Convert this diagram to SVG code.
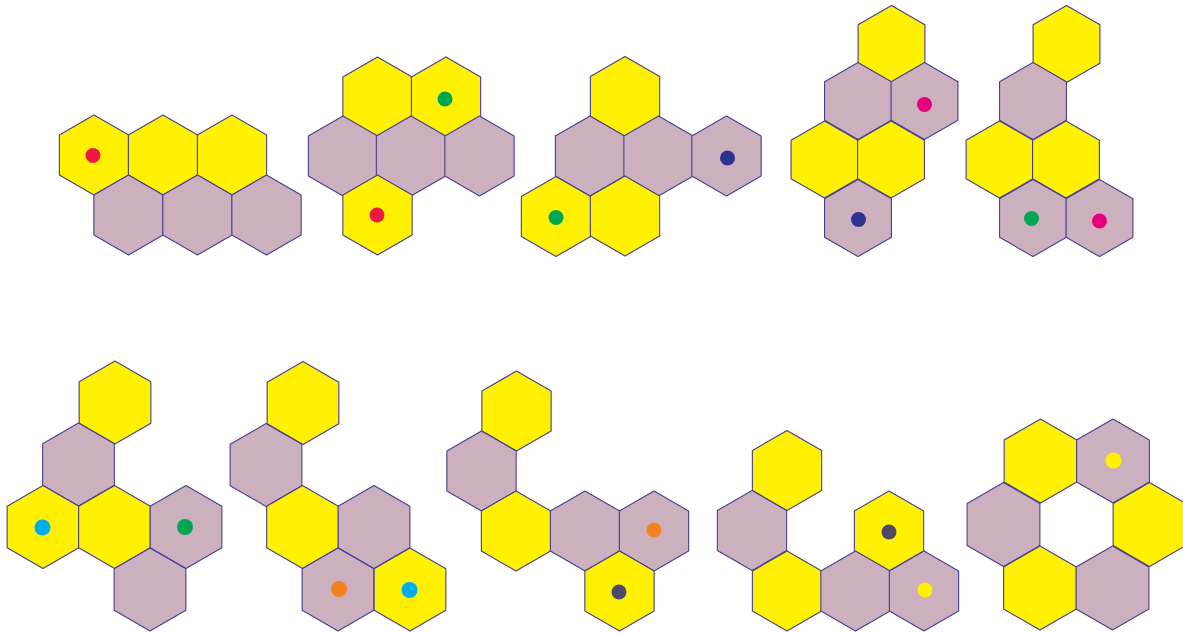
<svg xmlns="http://www.w3.org/2000/svg" xmlns:xlink="http://www.w3.org/1999/xlink" width="1183" height="633" viewBox="0 0 1183 633">
<style>
.y{fill:#FFF100}
.p{fill:#CDB0BE}
.d{stroke:none}
</style>
<defs>
<path id="h" d="M0,-40 L34.64,-20 L34.64,20 L0,40 L-34.64,20 L-34.64,-20 Z" stroke="#443F94" stroke-width="1.1" stroke-linejoin="round" vector-effect="non-scaling-stroke"/>
</defs>
<rect width="1183" height="633" fill="#FFFFFF"/>
<g id="cluster1">
<use xlink:href="#h" class="y" transform="translate(94,155)"/>
<use xlink:href="#h" class="y" transform="translate(163,155)"/>
<use xlink:href="#h" class="y" transform="translate(232,155)"/>
<use xlink:href="#h" class="p" transform="translate(128.5,215)"/>
<use xlink:href="#h" class="p" transform="translate(197.5,215)"/>
<use xlink:href="#h" class="p" transform="translate(266.5,215)"/>
<circle class="d" cx="93" cy="155.5" r="7.5" fill="#ED1848"/>
</g>
<g id="cluster2">
<use xlink:href="#h" class="y" transform="translate(377.5,97)"/>
<use xlink:href="#h" class="y" transform="translate(446,97)"/>
<use xlink:href="#h" class="p" transform="translate(343,156)"/>
<use xlink:href="#h" class="p" transform="translate(411,156)"/>
<use xlink:href="#h" class="p" transform="translate(479.5,156)"/>
<use xlink:href="#h" class="y" transform="translate(377.5,215)"/>
<circle class="d" cx="445" cy="99" r="7.5" fill="#00A651"/>
<circle class="d" cx="377" cy="215" r="7.5" fill="#ED1848"/>
</g>
<g id="cluster3">
<use xlink:href="#h" class="y" transform="translate(625,96.5)"/>
<use xlink:href="#h" class="p" transform="translate(590,156)"/>
<use xlink:href="#h" class="p" transform="translate(658.5,156)"/>
<use xlink:href="#h" class="p" transform="translate(726.5,156)"/>
<use xlink:href="#h" class="y" transform="translate(556,216.5)"/>
<use xlink:href="#h" class="y" transform="translate(625,216)"/>
<circle class="d" cx="727.5" cy="158" r="7.5" fill="#2E3192"/>
<circle class="d" cx="556" cy="217.5" r="7.5" fill="#00A651"/>
</g>
<g id="cluster4">
<use xlink:href="#h" class="y" transform="translate(891.5,44) scale(0.965)"/>
<use xlink:href="#h" class="p" transform="translate(858,101) scale(0.965)"/>
<use xlink:href="#h" class="p" transform="translate(924.5,101) scale(0.965)"/>
<use xlink:href="#h" class="y" transform="translate(824.5,159.5) scale(0.965)"/>
<use xlink:href="#h" class="y" transform="translate(891,159.5) scale(0.965)"/>
<use xlink:href="#h" class="p" transform="translate(858,218) scale(0.965)"/>
<circle class="d" cx="924.5" cy="104.5" r="7.5" fill="#E6007E"/>
<circle class="d" cx="858.5" cy="219.5" r="7.5" fill="#2E3192"/>
</g>
<g id="cluster5">
<use xlink:href="#h" class="y" transform="translate(1066.5,44) scale(0.965)"/>
<use xlink:href="#h" class="p" transform="translate(1033,101) scale(0.965)"/>
<use xlink:href="#h" class="y" transform="translate(999.5,159.5) scale(0.965)"/>
<use xlink:href="#h" class="y" transform="translate(1066,159.5) scale(0.965)"/>
<use xlink:href="#h" class="p" transform="translate(1033,218) scale(0.965)"/>
<use xlink:href="#h" class="p" transform="translate(1099.5,218) scale(0.965)"/>
<circle class="d" cx="1031.5" cy="218.5" r="7.5" fill="#00A651"/>
<circle class="d" cx="1099.5" cy="221" r="7.5" fill="#E6007E"/>
</g>
<g id="cluster6">
<use xlink:href="#h" class="y" transform="translate(115,402.5) scale(1.035)"/>
<use xlink:href="#h" class="p" transform="translate(78.5,464.5) scale(1.035)"/>
<use xlink:href="#h" class="y" transform="translate(43,527) scale(1.035)"/>
<use xlink:href="#h" class="y" transform="translate(114.5,527) scale(1.035)"/>
<use xlink:href="#h" class="p" transform="translate(186,527) scale(1.035)"/>
<use xlink:href="#h" class="p" transform="translate(150,589.5) scale(1.035)"/>
<circle class="d" cx="42.5" cy="527.5" r="8" fill="#00AEEF"/>
<circle class="d" cx="185" cy="527" r="8" fill="#00A651"/>
</g>
<g id="cluster7">
<use xlink:href="#h" class="y" transform="translate(303,403) scale(1.035)"/>
<use xlink:href="#h" class="p" transform="translate(266,465) scale(1.035)"/>
<use xlink:href="#h" class="y" transform="translate(302.5,527) scale(1.035)"/>
<use xlink:href="#h" class="p" transform="translate(374,527) scale(1.035)"/>
<use xlink:href="#h" class="p" transform="translate(338,589.5) scale(1.035)"/>
<use xlink:href="#h" class="y" transform="translate(410,589.5) scale(1.035)"/>
<circle class="d" cx="339" cy="589" r="8" fill="#F58220"/>
<circle class="d" cx="409.5" cy="590" r="8" fill="#00AEEF"/>
</g>
<g id="cluster8">
<use xlink:href="#h" class="y" transform="translate(516.5,411)"/>
<use xlink:href="#h" class="p" transform="translate(481.5,471)"/>
<use xlink:href="#h" class="y" transform="translate(516,531)"/>
<use xlink:href="#h" class="p" transform="translate(585,531)"/>
<use xlink:href="#h" class="p" transform="translate(654,531)"/>
<use xlink:href="#h" class="y" transform="translate(619.5,591)"/>
<circle class="d" cx="654" cy="530" r="7.5" fill="#F58220"/>
<circle class="d" cx="619" cy="592" r="7.5" fill="#4E4869"/>
</g>
<g id="cluster9">
<use xlink:href="#h" class="y" transform="translate(787,470.5)"/>
<use xlink:href="#h" class="p" transform="translate(752,530.5)"/>
<use xlink:href="#h" class="y" transform="translate(889,531)"/>
<use xlink:href="#h" class="y" transform="translate(787,591)"/>
<use xlink:href="#h" class="p" transform="translate(855.5,591)"/>
<use xlink:href="#h" class="p" transform="translate(924,591)"/>
<circle class="d" cx="889" cy="532" r="7.5" fill="#4E4869"/>
<circle class="d" cx="925" cy="590" r="7.5" fill="#FFF100"/>
</g>
<g id="cluster10">
<use xlink:href="#h" class="y" transform="translate(1040.5,461) scale(1.05)"/>
<use xlink:href="#h" class="p" transform="translate(1113,461) scale(1.05)"/>
<use xlink:href="#h" class="p" transform="translate(1003.5,524.5) scale(1.05)"/>
<use xlink:href="#h" class="y" transform="translate(1149.5,524.5) scale(1.05)"/>
<use xlink:href="#h" class="y" transform="translate(1040,588) scale(1.05)"/>
<use xlink:href="#h" class="p" transform="translate(1112.5,588) scale(1.05)"/>
<circle class="d" cx="1113.5" cy="460.5" r="8" fill="#FFF100"/>
</g>
<g id="connectors"/>
</svg>
